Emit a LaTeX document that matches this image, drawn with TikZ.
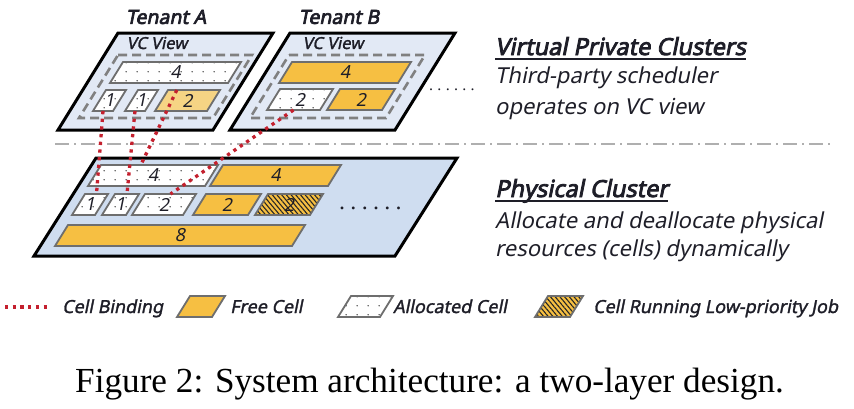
\documentclass[tikz,border=0pt]{standalone}
\usepackage{fontspec}
\setmainfont{Liberation Serif}
\newfontfamily\labfont{Noto Sans}[FakeSlant=0.2]
\newfontfamily\labboldfont{Noto Sans}[FakeSlant=0.2,FakeBold=3.5]
\newfontfamily\labsemifont{Noto Sans}[FakeSlant=0.2,FakeBold=1.6]
\usepackage{tikz}
\usetikzlibrary{calc,positioning,patterns.meta}

\definecolor{bindred}{RGB}{196,32,46}
\definecolor{freecell}{RGB}{246,191,66}
\definecolor{paleorange}{RGB}{246,212,132}
\definecolor{physblue}{RGB}{207,221,240}
\definecolor{vcblue}{RGB}{226,233,245}
\definecolor{cellgray}{RGB}{110,110,110}
\definecolor{dashgray}{RGB}{128,128,128}
\definecolor{sepgray}{RGB}{175,175,175}
\definecolor{textdark}{RGB}{30,30,40}

\tikzdeclarepattern{
  name=celldots,
  type=uncolored,
  bounding box={(0pt,0pt) and (11pt,9pt)},
  tile size={(11pt,9pt)},
  code={\fill (5.5pt,4.5pt) circle (0.8pt);}
}

\tikzset{
  panel/.style={draw=black, line width=3pt, line join=miter},
  vcpanel/.style={panel, fill=vcblue},
  physpanel/.style={panel, fill=physblue},
  viewbox/.style={draw=dashgray, line width=2.6pt, dash pattern=on 9pt off 5pt},
  cellbox/.style={draw=cellgray, line width=1.8pt, line join=miter},
  freec/.style={fill=freecell},
  palec/.style={fill=paleorange},
  allocc/.style={preaction={fill=white}, pattern=celldots, pattern color=black!75},
  lowc/.style={preaction={fill=freecell},
    pattern={Lines[angle=-50,distance=3.6pt,line width=1.1pt]}, pattern color=black!85},
  binding/.style={draw=bindred, line width=3.3pt, dash pattern=on 3.3pt off 4.4pt},
  celltext/.style={font=\labfont\fontsize{18}{18}\selectfont, inner sep=0pt, text=textdark},
  tenanttext/.style={font=\labboldfont\fontsize{19.5}{19.5}\selectfont, inner sep=0pt, text=textdark},
  viewtext/.style={font=\labsemifont\fontsize{16.5}{16.5}\selectfont, inner sep=0pt, text=textdark},
  headtext/.style={font=\labboldfont\fontsize{23.5}{23.5}\selectfont, inner sep=0pt, text=textdark},
  desctext/.style={font=\labfont\fontsize{22}{22}\selectfont, inner sep=0pt, text=textdark,
    text height=17pt, text depth=5pt},
  legtext/.style={font=\labsemifont\fontsize{18}{18}\selectfont, inner sep=0pt, text=textdark},
  moretext/.style={font=\labboldfont, inner sep=0pt, text=textdark}
}

% one cell: [look]{name}{bottom-left x}{bottom y}{width}{label}
\newcommand{\cell}[6][]{%
  \draw[cellbox,#1] (#3,#4) coordinate (#2-bl) -- ++(#5,0) coordinate (#2-br)
    -- ++(13,-21) coordinate (#2-tr) -- ++(-#5,0) coordinate (#2-tl) -- cycle;
  \node[celltext] (#2) at ($(#2-bl)!0.5!(#2-tr)$) {#6};
  \coordinate (#2-t) at ($(#2-tl)!0.5!(#2-tr)$);
  \coordinate (#2-b) at ($(#2-bl)!0.5!(#2-br)$);
}
% six spaced dots: {gap}
\newcommand{\moredots}[1]{.\hspace{#1}.\hspace{#1}.\hspace{#1}.\hspace{#1}.\hspace{#1}.}

\begin{document}
\begin{tikzpicture}[x=1pt,y=-1pt]
  \useasboundingbox (0,0) rectangle (854,408);

  % tenant views
  \draw[vcpanel] (118,33) -- (273,33) -- (213,130) -- (58,130) -- cycle;
  \draw[vcpanel] (290,33) -- (455,33) -- (395,130) -- (230,130) -- cycle;
  \draw[viewbox] (118,55) -- (252,55) -- (213,118) -- (79,118) -- cycle;
  \draw[viewbox] (289,55) -- (425,55) -- (386,118) -- (250,118) -- cycle;

  \node[tenanttext] (tenA) at (166,17) {Tenant A};
  \node[tenanttext] (tenB) at (339,17) {Tenant B};
  \node[viewtext] (viewA) at (157,43) {VC View};
  \node[viewtext] (viewB) at (333,43) {VC View};

  \cell[allocc]{ta4}{110}{83}{118}{4}
  \cell[allocc]{ta1a}{93}{111}{20}{1}
  \cell[allocc]{ta1b}{125}{111}{20}{1}
  \cell[palec]{ta2}{155}{111}{52}{2}

  \cell[freec]{tb4}{279}{83}{119}{4}
  \cell[allocc]{tb2a}{267}{110}{53}{2}
  \cell[freec]{tb2b}{327}{110}{55}{2}
  \node[moretext, font=\fontsize{16}{16}\selectfont, anchor=base west] (moreB) at (429,90) {\moredots{4.3pt}};

  % layer separator
  \draw[sepgray, line width=2pt, dash pattern=on 14pt off 5pt on 2pt off 5pt] (55,144) -- (830,144);

  % physical cluster
  \draw[physpanel] (96,158) -- (457,158) -- (395,256) -- (34,256) -- cycle;

  \cell[allocc]{pc4a}{88}{186}{117}{4}
  \cell[freec]{pc4b}{210}{186}{118}{4}
  \cell[allocc]{pc1a}{72}{215}{23}{1}
  \cell[allocc]{pc1b}{102}{215}{24}{1}
  \cell[allocc]{pc2a}{132}{215}{51}{2}
  \cell[freec]{pc2b}{193}{215}{55}{2}
  \cell[lowc]{pc2c}{255}{215}{55}{2}
  \cell[freec]{pc8}{55}{246}{237}{8}
  \node[moretext, font=\fontsize{24}{24}\selectfont, anchor=base west] (moreP) at (339,209) {\moredots{5.3pt}};

  % cell bindings
  \draw[binding] (ta1a-b) -- (pc1a-t);
  \draw[binding] (ta1b-b) -- (pc1b-t);
  \draw[binding] ($(ta2-tl)!0.17!(ta2-tr)$) -- ($(pc4a-tl)!0.34!(pc4a-tr)$);
  \draw[binding] (tb2a-b) -- (pc2a-t);

  % right-hand notes
  \node[headtext, anchor=base west] (vpc) at (495,55) {Virtual Private Clusters};
  \draw[line width=2.4pt, textdark] ([yshift=-4pt]vpc.base west) -- ([yshift=-4pt]vpc.base east);
  \node[desctext, below right=11pt and 0pt of vpc.south west] (vpcA) {Third-party scheduler};
  \node[desctext, below right=8pt and 0pt of vpcA.south west] (vpcB) {operates on VC view};

  \node[headtext, anchor=base west] (phys) at (495,197) {Physical Cluster};
  \draw[line width=2.4pt, textdark] ([yshift=-4pt]phys.base west) -- ([yshift=-4pt]phys.base east);
  \node[desctext, below right=8pt and 0pt of phys.south west] (physA) {Allocate and deallocate physical};
  \node[desctext, below right=6pt and 0pt of physA.south west] (physB) {resources (cells) dynamically};

  % legend
  \coordinate (lgA) at (5,307);
  \coordinate (lgB) at (48,307);
  \draw[binding] (lgA) -- (lgB);
  \node[legtext, anchor=base west] (lgbind) at (62,313) {Cell Binding};
  \cell[freec]{lgfree}{177}{317}{35}{}
  \node[legtext, anchor=base west] (lgfreet) at (230,313) {Free Cell};
  \cell[allocc]{lgalloc}{338}{317}{42}{}
  \node[legtext, anchor=base west] (lgalloct) at (393,313) {Allocated Cell};
  \cell[lowc]{lglow}{535}{317}{35}{}
  \node[legtext, anchor=base west] (lglowt) at (593,313) {Cell Running Low-priority Job};

  % caption
  \node[anchor=base west, inner sep=0pt, font=\fontsize{35.2}{35.2}\selectfont] (caption) at (75,392)
    {Figure 2: System architecture: a two-layer design.};
\end{tikzpicture}
\end{document}
